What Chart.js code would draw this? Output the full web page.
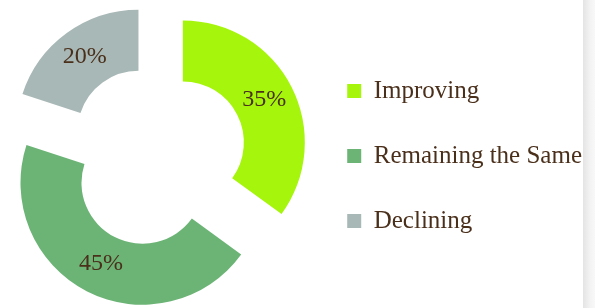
<!DOCTYPE html>
<html>
<head>
<meta charset="utf-8">
<script src="https://cdn.jsdelivr.net/npm/chart.js@4"></script>
<style>
  html, body { margin: 0; padding: 0; background: #fff; }
  #wrap { position: relative; width: 595px; height: 308px; overflow: hidden; }
  #edge { position: absolute; right: 0; top: 0; width: 12px; height: 308px;
          background: linear-gradient(to right, #e4e4e4, #f3f3f3 60%, #f8f8f8); }
</style>
</head>
<body>
<div id="wrap">
  <canvas id="grafico" width="595" height="308"></canvas>
  <div id="edge"></div>
</div>
<script>
// Dados do gráfico
const categorias = ["Improving", "Remaining the Same", "Declining"];
const valores = [35, 45, 20];
const cores = ["#a6f50c", "#6cb476", "#a8b8b6"];

const corTexto = "#4a2f1b";
const fonte = "'Liberation Serif', 'Times New Roman', serif";
const explosao = 30; // deslocamento de cada fatia a partir do centro

// Plugin para afastar as fatias do centro (sem aumentar o raio)
const afastarFatias = {
  id: "afastarFatias",
  afterDatasetUpdate(chart, args) {
    const meta = chart.getDatasetMeta(args.index);
    meta.data.forEach(function (arc) {
      const meio = (arc.startAngle + arc.endAngle) / 2;
      arc.x += Math.cos(meio) * explosao;
      arc.y += Math.sin(meio) * explosao;
    });
  }
};

// Plugin para escrever os percentuais dentro das fatias
const rotulos = {
  id: "rotulos",
  afterDatasetsDraw(chart) {
    const ctx = chart.ctx;
    const meta = chart.getDatasetMeta(0);
    ctx.save();
    ctx.font = "24px " + fonte;
    ctx.fillStyle = corTexto;
    ctx.textAlign = "center";
    ctx.textBaseline = "middle";
    meta.data.forEach(function (arc, i) {
      const meio = (arc.startAngle + arc.endAngle) / 2;
      const raio = (arc.innerRadius + arc.outerRadius) / 2;
      ctx.fillText(valores[i] + "%", arc.x + Math.cos(meio) * raio, arc.y + Math.sin(meio) * raio - 1);
    });
    ctx.restore();
  }
};

new Chart(document.getElementById("grafico"), {
  type: "doughnut",
  data: {
    labels: categorias,
    datasets: [{
      data: valores,
      backgroundColor: cores,
      borderWidth: 0
    }]
  },
  options: {
    responsive: false,
    animation: false,
    events: [],
    cutout: "50%",
    layout: {
      padding: { left: 5, right: 3, top: 34, bottom: 30 }
    },
    plugins: {
      tooltip: { enabled: false },
      legend: {
        position: "right",
        labels: {
          boxWidth: 14,
          boxHeight: 14,
          padding: 40,
          color: corTexto,
          font: { family: fonte, size: 25 }
        }
      }
    }
  },
  plugins: [afastarFatias, rotulos]
});
</script>
</body>
</html>
